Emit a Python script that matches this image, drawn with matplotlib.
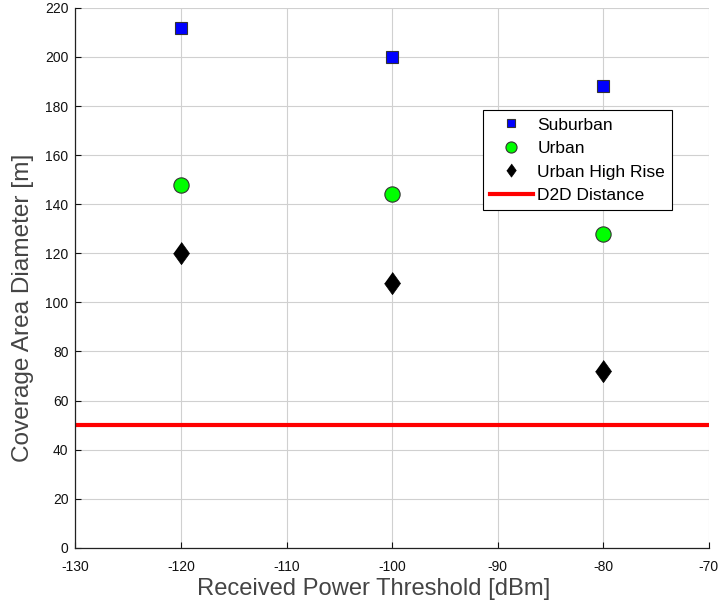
import matplotlib
matplotlib.use("Agg")
import matplotlib.pyplot as plt

plt.rcParams['font.family'] = ['Liberation Sans', 'DejaVu Sans']
plt.rcParams['axes.unicode_minus'] = False

# received power thresholds (dBm)
threshold = [-120, -100, -80]

# coverage diameters (m)
suburban = [212, 200, 188]
urban = [148, 144, 128]
urban_high_rise = [120, 108, 72]
d2d_distance = 50

xticks = [-130, -120, -110, -100, -90, -80, -70]
yticks = list(range(0, 221, 20))

fig = plt.figure(figsize=(7.19, 6.06), dpi=100)
ax = fig.add_axes([0.105, 0.096, 0.881, 0.891])

diamond = [(0, 1), (0.72, 0), (0, -1), (-0.72, 0)]

ax.plot(threshold, suburban, ls='none', marker='s', ms=8.5,
        mfc='#0000ff', mec='#333333', mew=0.8, label='Suburban', zorder=3)
ax.plot(threshold, urban, ls='none', marker='o', ms=11,
        mfc='#00ff00', mec='#333333', mew=0.8, label='Urban', zorder=3)
ax.plot(threshold, urban_high_rise, ls='none', marker=diamond, ms=16,
        mfc='black', mec='black', mew=0.5, label='Urban High Rise', zorder=3)
ax.axhline(d2d_distance, color='#ff0000', lw=3, label='D2D Distance', zorder=2)

ax.set_xlim(-130, -70)
ax.set_ylim(0, 220)
ax.set_xticks(xticks)
ax.set_yticks(yticks)
ax.tick_params(direction='in', length=4, width=0.8, labelsize=10,
               colors='#111111')
ax.tick_params(axis='x', pad=9)
ax.tick_params(axis='y', pad=5)
ax.grid(True, color='#d0d0d0', lw=0.8)
ax.set_axisbelow(True)

for side in ['top', 'right']:
    ax.spines[side].set_visible(False)
for side in ['left', 'bottom']:
    ax.spines[side].set_color('#222222')
    ax.spines[side].set_linewidth(0.9)

ax.set_xlabel('Received Power Threshold [dBm]', fontsize=17.1, color='#444444')
ax.set_ylabel('Coverage Area Diameter [m]', fontsize=17.6, color='#444444')
ax.xaxis.set_label_coords(0.47, -0.056)
ax.yaxis.set_label_coords(-0.0655, 0.444)

leg = ax.legend(loc='upper left', bbox_to_anchor=(0.643, 0.81), fontsize=12.5,
                frameon=True, fancybox=False, framealpha=1, edgecolor='black',
                borderpad=0.4, borderaxespad=0, labelspacing=0.48,
                handlelength=2.5, handletextpad=0.25)
leg.get_frame().set_linewidth(0.8)
for h, size in zip(leg.legend_handles[:3], [6, 8, 9.5]):
    h.set_markersize(size)

fig.savefig('out.png', dpi=100, facecolor='white')
